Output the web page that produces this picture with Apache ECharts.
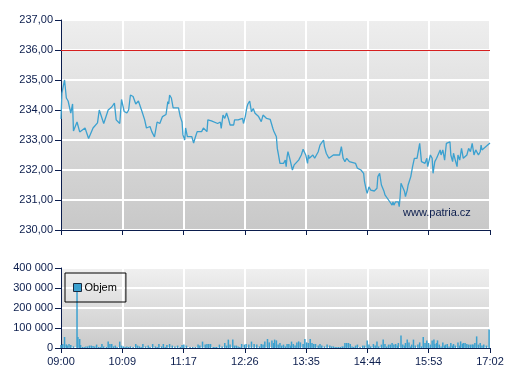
<!DOCTYPE html>
<html>
<head>
<meta charset="utf-8">
<script src="https://cdn.jsdelivr.net/npm/echarts@6/dist/echarts.min.js"></script>
<style>html,body{margin:0;padding:0;background:#fff}#c{width:507px;height:380px}</style>
</head>
<body>
<div id="c"></div>
<script>
// time axis: minutes since 09:00, session 09:00 - 17:02 (482 min)
var tickLabels = ['09:00','10:09','11:17','12:26','13:35','14:44','15:53','17:02'];
var sessionMinutes = 482;
var refLevel = 236;

var priceTimes = [0,1,4,6,8,11,13,14,18,21,27,31,36,41,43,48,53,57,60,62,66,68,71,74,76,78,81,84,87,91,94,96,100,102,105,108,111,114,118,120,121,122,124,126,128,132,134,136,137,139,140,142,147,149,151,153,158,160,164,165,169,176,179,180,182,184,186,188,190,194,195,199,201,204,205,207,209,210,212,214,216,218,222,225,227,231,233,235,237,238,239,242,243,244,246,248,250,252,253,254,255,257,259,260,262,264,267,270,272,274,275,277,278,279,283,285,289,291,293,295,296,298,300,301,306,313,315,317,319,321,324,326,331,333,335,337,339,340,341,343,344,346,348,350,352,354,355,356,358,360,361,363,364,366,368,370,372,373,374,376,377,379,380,381,382,383,386,387,389,390,392,393,395,397,400,401,403,404,405,407,409,411,412,415,417,418,420,422,424,426,427,429,431,433,435,437,438,440,441,443,445,446,448,450,452,454,456,458,460,462,464,466,468,469,471,472,473,482];
var priceValues = [233.7,234.56,235.0,234.4,234.3,233.9,234.2,233.3,233.6,233.27,233.4,233.05,233.4,233.57,234.0,233.55,234.0,234.1,234.23,233.67,233.55,234.35,233.95,233.9,234.0,234.5,234.45,234.2,234.3,233.95,233.67,233.4,233.45,233.28,233.1,233.6,233.55,233.78,233.85,234.28,234.2,234.5,234.4,234.07,234.1,234.07,233.78,233.6,233.17,233.0,233.4,233.11,233.11,232.9,233.1,233.28,233.28,233.4,233.28,233.67,233.64,233.55,233.6,233.39,233.83,233.72,233.9,233.72,233.5,233.5,233.67,233.67,233.61,233.72,233.55,233.78,234.11,234.2,234.3,233.94,234.05,233.89,233.78,233.61,233.83,233.72,233.78,233.69,233.67,233.39,233.3,233.11,232.72,232.56,232.22,232.28,232.22,232.33,232.11,232.44,232.61,232.39,232.39,232.0,232.17,232.11,232.33,232.5,232.69,232.69,232.5,232.22,232.5,232.39,232.5,232.39,232.61,232.83,232.89,233.0,232.78,232.56,232.61,232.39,232.5,232.5,232.78,232.39,232.28,232.39,232.28,232.22,232.22,232.06,232.11,232.0,232.0,231.89,231.61,231.33,231.22,231.44,231.33,231.39,231.3,231.33,231.39,231.78,231.89,231.5,231.44,231.28,231.17,231.11,231.0,231.06,230.83,230.94,230.83,230.94,230.89,230.94,230.78,231.11,231.56,231.56,231.28,231.11,231.33,231.5,231.56,231.78,232.11,232.39,232.39,232.44,232.89,232.89,232.28,232.33,232.22,232.39,232.11,232.5,232.39,231.89,232.28,232.39,232.44,232.67,232.5,232.67,232.33,232.89,232.83,232.94,232.5,232.28,232.56,232.33,232.11,232.5,232.33,232.72,232.39,232.33,232.5,232.72,232.61,232.89,232.5,232.67,232.72,232.5,232.61,232.83,232.67,232.9];

var volumeTimes = [0,2,4,6,7,9,11,14,18,19,21,22,24,26,28,30,32,34,36,38,40,42,44,46,48,51,53,55,57,59,61,63,66,68,70,72,74,76,78,81,84,86,88,90,92,95,98,100,103,106,108,110,113,115,117,119,122,125,128,131,134,136,138,141,145,148,151,154,156,159,162,164,166,168,171,173,175,178,181,184,186,188,190,193,195,197,199,201,203,206,208,211,214,217,220,223,225,227,229,232,234,237,239,240,242,244,246,248,250,252,254,256,258,259,261,263,265,267,269,272,274,276,278,280,282,284,286,289,291,293,296,299,302,304,306,308,310,312,314,316,318,319,321,323,325,327,329,331,333,336,339,341,344,346,348,351,353,355,357,360,362,364,366,368,370,372,374,376,378,379,382,384,386,387,389,391,393,394,396,398,401,403,405,407,409,411,413,415,417,419,420,422,423,425,427,429,431,432,434,436,438,440,441,443,446,448,449,451,452,454,456,458,460,462,463,465,467,469,471,473,475,478,481];
var volumeValues = [15000,20000,55000,18000,12000,20000,15000,8000,305000,55000,45000,15000,5000,5000,8000,8000,12000,12000,10000,8000,17000,5000,5000,20000,8000,5000,32000,20000,20000,8000,12000,5000,32000,12000,8000,5000,8000,5000,8000,5000,20000,12000,8000,5000,20000,8000,12000,5000,20000,8000,5000,20000,8000,20000,5000,15000,20000,12000,8000,12000,5000,15000,17000,12000,5000,5000,5000,17000,12000,32000,17000,20000,20000,20000,5000,5000,5000,17000,8000,25000,12000,42000,17000,42000,12000,12000,8000,5000,20000,17000,20000,17000,32000,20000,17000,8000,20000,17000,32000,45000,28000,38000,25000,42000,38000,17000,25000,12000,17000,8000,20000,20000,12000,32000,20000,12000,28000,33000,28000,20000,45000,28000,25000,45000,25000,20000,20000,12000,20000,12000,8000,17000,12000,8000,8000,5000,5000,5000,5000,8000,8000,25000,25000,25000,20000,8000,5000,12000,17000,5000,12000,12000,38000,17000,8000,20000,12000,33000,8000,17000,42000,20000,8000,17000,17000,25000,17000,20000,12000,25000,62000,17000,12000,25000,42000,28000,8000,17000,42000,12000,17000,28000,8000,55000,25000,37000,25000,17000,38000,42000,20000,25000,38000,17000,8000,28000,12000,17000,20000,8000,25000,12000,20000,12000,28000,12000,33000,20000,25000,25000,20000,17000,17000,17000,17000,25000,58000,17000,25000,12000,17000,12000,92000];

var seriesName = 'Objem';
var watermark = 'www.patria.cz';

var FONT = "'Liberation Sans', Arial, sans-serif";
var NAVY = '#0b1d4d';
var BLUE = '#3ba1d0';

var priceData = priceTimes.map(function (t, i) { return [t, priceValues[i]]; });
var volumeData = volumeTimes.map(function (t, i) { return [t, volumeValues[i]]; });

function timeLabel(v) {
  var idx = Math.round(v * (tickLabels.length - 1) / sessionMinutes);
  return tickLabels[idx] || '';
}
function grad(top, bottom) {
  return new echarts.graphic.LinearGradient(0, 0, 0, 1, [
    { offset: 0, color: top }, { offset: 1, color: bottom }
  ]);
}

var chart = echarts.init(document.getElementById('c'), null, { renderer: 'canvas' });
var xCommon = {
  type: 'value', min: 0, max: sessionMinutes, interval: sessionMinutes / (tickLabels.length - 1),
  axisLine: { show: true, lineStyle: { color: NAVY, width: 1 } },
  axisTick: { show: true, length: 5, lineStyle: { color: NAVY } },
  splitLine: { show: true, lineStyle: { color: '#ffffff', width: 2 } }
};
chart.setOption({
  animation: false,
  textStyle: { fontFamily: FONT },
  grid: [
    { left: 61, right: 17, top: 20, height: 210, show: true, borderWidth: 0,
      backgroundColor: grad('#eeeeee', '#c8c8c8') },
    { left: 61, right: 17, top: 268, height: 80, show: true, borderWidth: 0,
      backgroundColor: grad('#f0f0f0', '#cacaca') }
  ],
  xAxis: [
    Object.assign({}, xCommon, { gridIndex: 0, axisLabel: { show: false } }),
    Object.assign({}, xCommon, { gridIndex: 1,
      axisLabel: { show: true, color: NAVY, fontSize: 11, fontFamily: FONT, margin: 8, formatter: timeLabel } })
  ],
  yAxis: [
    { type: 'value', gridIndex: 0, min: 230, max: 237, interval: 1,
      axisLine: { show: true, lineStyle: { color: NAVY, width: 1 } },
      axisTick: { show: true, length: 6, lineStyle: { color: NAVY } },
      splitLine: { show: true, lineStyle: { color: '#ffffff', width: 2 } },
      axisLabel: { color: NAVY, fontSize: 11, fontFamily: FONT, margin: 8,
        formatter: function (v) { return v.toFixed(2).replace('.', ','); } } },
    { type: 'value', gridIndex: 1, min: 0, max: 400000, interval: 100000,
      axisLine: { show: true, lineStyle: { color: NAVY, width: 1 } },
      axisTick: { show: true, length: 6, lineStyle: { color: NAVY } },
      splitLine: { show: true, lineStyle: { color: '#ffffff', width: 2 } },
      axisLabel: { color: NAVY, fontSize: 11, fontFamily: FONT, margin: 8,
        formatter: function (v) { return String(v).replace(/\B(?=(\d{3})+(?!\d))/g, ' '); } } }
  ],
  legend: {
    data: [seriesName], left: 65, top: 273, orient: 'horizontal',
    borderColor: '#000000', borderWidth: 1, padding: [9, 9, 9, 8],
    itemWidth: 8, itemHeight: 8, icon: 'rect',
    itemStyle: { color: BLUE, borderColor: '#1a2a40', borderWidth: 1 },
    textStyle: { color: '#000000', fontSize: 11, fontFamily: FONT, padding: [0, 0, 0, -2] }
  },
  graphic: [
    { type: 'text', left: 403, top: 207, z: 10,
      style: { text: watermark, fill: NAVY, font: "11px 'Liberation Sans', Arial, sans-serif" } }
  ],
  series: [
    { type: 'line', xAxisIndex: 0, yAxisIndex: 0, data: priceData, showSymbol: false,
      lineStyle: { color: BLUE, width: 1.3 }, itemStyle: { color: BLUE },
      markLine: { silent: true, symbol: 'none', label: { show: false },
        lineStyle: { color: '#d61f1f', width: 1, type: 'solid' },
        data: [{ yAxis: refLevel }] } },
    { name: seriesName, type: 'bar', xAxisIndex: 1, yAxisIndex: 1, data: volumeData,
      barWidth: 1.5, itemStyle: { color: BLUE } }
  ]
});
</script>
</body>
</html>
